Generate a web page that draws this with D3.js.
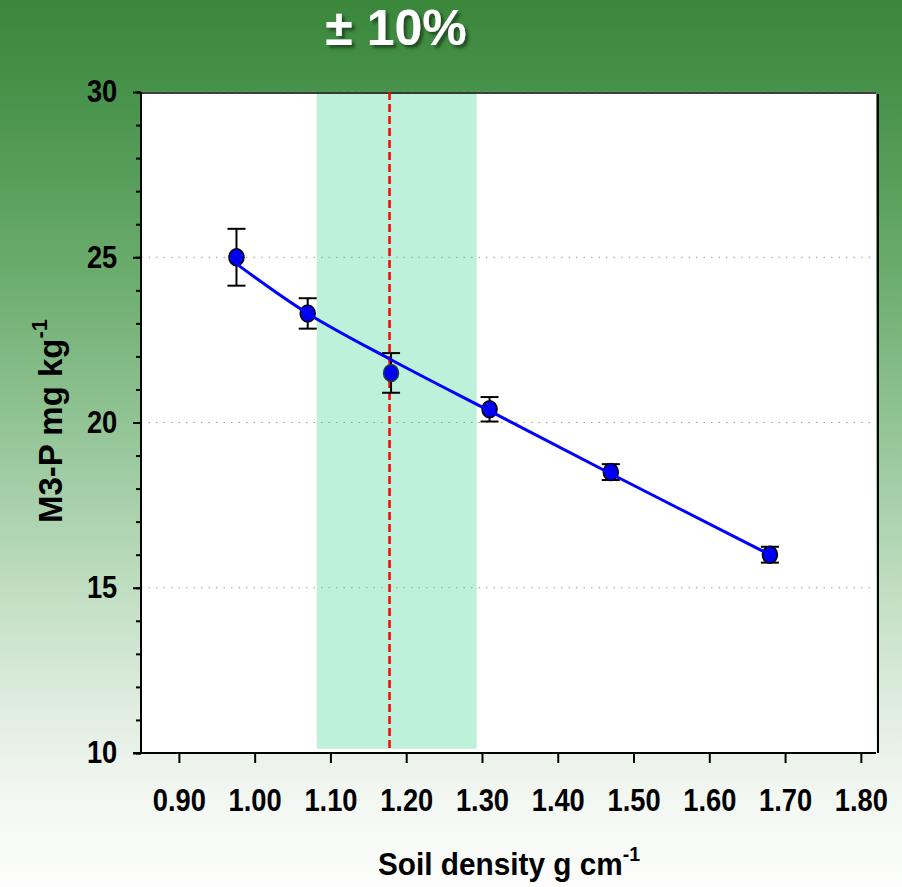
<!DOCTYPE html>
<html>
<head>
<meta charset="utf-8">
<script src="https://cdn.jsdelivr.net/npm/d3@7"></script>
<style>
  html, body { margin: 0; padding: 0; }
  body { width: 902px; height: 887px; overflow: hidden; }
  svg { display: block; font-family: Arial, 'Liberation Sans', sans-serif; }
</style>
</head>
<body>
<svg id="chart" width="902" height="887"></svg>
<script>
// measured points: soil density vs M3-P
const density = [0.976, 1.07, 1.18, 1.31, 1.47, 1.68];
const m3p = [25.0, 23.3, 21.5, 20.4, 18.5, 16.0];
const m3pErr = [0.86, 0.46, 0.6, 0.37, 0.24, 0.24];

// fitted curve
const fitX = [0.976, 1.07, 1.18, 1.31, 1.47, 1.68];
const fitY = [24.8, 23.3, 21.9, 20.35, 18.45, 16.0];

// optimum density and the +/- 10% band
const optimum = 1.178;
const bandLow = 1.082;
const bandHigh = 1.293;

const xTicks = [0.9, 1.0, 1.1, 1.2, 1.3, 1.4, 1.5, 1.6, 1.7, 1.8];
const yTicks = [10, 15, 20, 25, 30];
const yMinor = d3.range(10, 31, 1);

const svg = d3.select('#chart');
const W = 902, H = 887;
const plotLeft = 141, plotRight = 876, plotTop = 92, plotBottom = 753;
const SQUEEZE = 0.88; // labels in the picture are narrow

const defs = svg.append('defs');
const grad = defs.append('linearGradient')
  .attr('id', 'bg').attr('x1', 0).attr('y1', 0).attr('x2', 0).attr('y2', 1);
[
  [0, '#3a873b'], [0.12, '#4a944d'], [0.3, '#6aab6c'], [0.5, '#97c79a'],
  [0.68, '#c4e0c5'], [0.8, '#e0ede0'], [0.9, '#f3f7f2'], [1, '#fcfdfc']
].forEach(([o, c]) => grad.append('stop').attr('offset', o).attr('stop-color', c));

const shadow = defs.append('filter').attr('id', 'shadow')
  .attr('x', '-20%').attr('y', '-20%').attr('width', '140%').attr('height', '140%');
shadow.append('feDropShadow')
  .attr('dx', 3).attr('dy', 3).attr('stdDeviation', 1.5)
  .attr('flood-color', '#1a3a1a').attr('flood-opacity', 0.8);

svg.append('rect').attr('width', W).attr('height', H).attr('fill', 'url(#bg)');

const x = d3.scaleLinear().domain([0.85, 1.82]).range([plotLeft, plotRight]);
const y = d3.scaleLinear().domain([10, 30]).range([plotBottom, plotTop]);

// plot area
svg.append('rect')
  .attr('x', plotLeft).attr('y', plotTop)
  .attr('width', plotRight - plotLeft).attr('height', plotBottom - plotTop)
  .attr('fill', '#ffffff');

// band
svg.append('rect')
  .attr('x', x(bandLow)).attr('y', y(30))
  .attr('width', x(bandHigh) - x(bandLow))
  .attr('height', y(10.13) - y(30))
  .attr('fill', '#bdf1d9');

// grid
svg.append('g')
  .selectAll('line')
  .data(yTicks.filter((d) => d > 10))
  .join('line')
  .attr('x1', plotLeft).attr('x2', plotRight)
  .attr('y1', (d) => y(d)).attr('y2', (d) => y(d))
  .attr('stroke', '#9a9a9a')
  .attr('stroke-width', 1.2)
  .attr('stroke-dasharray', '1.5,6');

// frame top and right
svg.append('line')
  .attr('x1', plotLeft).attr('x2', plotRight).attr('y1', plotTop + 1).attr('y2', plotTop + 1)
  .attr('stroke', '#000').attr('stroke-width', 1.5);
svg.append('line')
  .attr('x1', plotRight + 2).attr('x2', plotRight + 2).attr('y1', plotTop + 2).attr('y2', plotBottom)
  .attr('stroke', '#000').attr('stroke-width', 2);

// y axis
const yAxisMinor = svg.append('g')
  .attr('transform', `translate(${plotLeft},0)`)
  .call(d3.axisLeft(y).tickValues(yMinor).tickSize(5).tickFormat(''));
yAxisMinor.select('.domain').remove();
yAxisMinor.selectAll('line').attr('stroke-width', 2);

const yAxis = svg.append('g')
  .attr('transform', `translate(${plotLeft},0)`)
  .call(d3.axisLeft(y).tickValues(yTicks).tickSize(8).tickPadding(19).tickFormat(d3.format('d')));
yAxis.select('.domain').remove();
yAxis.selectAll('line').attr('stroke-width', 2);
yAxis.selectAll('text')
  .attr('font-size', 31).attr('font-weight', 'bold').attr('fill', '#000')
  .attr('font-family', 'Arial, Liberation Sans, sans-serif')
  .attr('transform', `scale(${SQUEEZE},1)`);

svg.append('line')
  .attr('x1', plotLeft).attr('x2', plotLeft).attr('y1', plotTop).attr('y2', plotBottom)
  .attr('stroke', '#000').attr('stroke-width', 2);

// x axis
const xAxis = svg.append('g')
  .attr('transform', `translate(0,${plotBottom})`)
  .call(d3.axisBottom(x).tickValues(xTicks).tickSize(10).tickPadding(26).tickFormat(d3.format('.2f')));
xAxis.select('.domain').remove();
xAxis.selectAll('line').attr('stroke-width', 2);
xAxis.selectAll('text')
  .attr('font-size', 31).attr('font-weight', 'bold').attr('fill', '#000')
  .attr('font-family', 'Arial, Liberation Sans, sans-serif')
  .attr('transform', `scale(${SQUEEZE},1)`);

svg.append('line')
  .attr('x1', plotLeft - 8).attr('x2', plotRight).attr('y1', plotBottom).attr('y2', plotBottom)
  .attr('stroke', '#000').attr('stroke-width', 2);

// optimum line
svg.append('line')
  .attr('x1', x(optimum)).attr('x2', x(optimum))
  .attr('y1', y(30)).attr('y2', y(10.13))
  .attr('stroke', '#ff0000').attr('stroke-width', 2.5)
  .attr('stroke-dasharray', '8,4');

const pts = density.map((d, i) => ({ x: d, y: m3p[i], e: m3pErr[i] }));

// error bars
const eb = svg.append('g').attr('stroke', '#000').attr('stroke-width', 2);
pts.forEach((p) => {
  eb.append('line').attr('x1', x(p.x)).attr('x2', x(p.x))
    .attr('y1', y(p.y + p.e)).attr('y2', y(p.y - p.e));
  [p.y + p.e, p.y - p.e].forEach((v) => {
    eb.append('line').attr('x1', x(p.x) - 9).attr('x2', x(p.x) + 9)
      .attr('y1', y(v)).attr('y2', y(v));
  });
});

// markers
svg.append('g')
  .selectAll('ellipse')
  .data(pts)
  .join('ellipse')
  .attr('cx', (d) => x(d.x)).attr('cy', (d) => y(d.y))
  .attr('rx', 7.5).attr('ry', 8.5)
  .attr('fill', '#0000f0')
  .attr('stroke', (d) => (d.x > bandLow && d.x < bandHigh ? '#1d4a2a' : '#000'))
  .attr('stroke-width', 1.5);

// fitted curve
const fit = fitX.map((d, i) => [d, fitY[i]]);
svg.append('path')
  .datum(fit)
  .attr('fill', 'none')
  .attr('stroke', '#0000ff')
  .attr('stroke-width', 3)
  .attr('d', d3.line().x((d) => x(d[0])).y((d) => y(d[1])).curve(d3.curveCatmullRom));

// titles
svg.append('text')
  .attr('x', 396).attr('y', 45)
  .attr('text-anchor', 'middle')
  .attr('font-size', 50).attr('font-weight', 'bold')
  .attr('fill', '#ffffff')
  .attr('filter', 'url(#shadow)')
  .text('± 10%');

const xt = svg.append('text')
  .attr('transform', 'translate(509,875) scale(0.93,1)')
  .attr('text-anchor', 'middle')
  .attr('font-size', 32).attr('font-weight', 'bold').attr('fill', '#000');
xt.append('tspan').text('Soil density g cm');
xt.append('tspan').attr('font-size', 21).attr('dy', -14).text('-1');

const yt = svg.append('text')
  .attr('transform', 'translate(62,421) rotate(-90)')
  .attr('text-anchor', 'middle')
  .attr('font-size', 33).attr('font-weight', 'bold').attr('fill', '#000');
yt.append('tspan').text('M3-P mg kg');
yt.append('tspan').attr('font-size', 22).attr('dy', -15).text('-1');
</script>
</body>
</html>
